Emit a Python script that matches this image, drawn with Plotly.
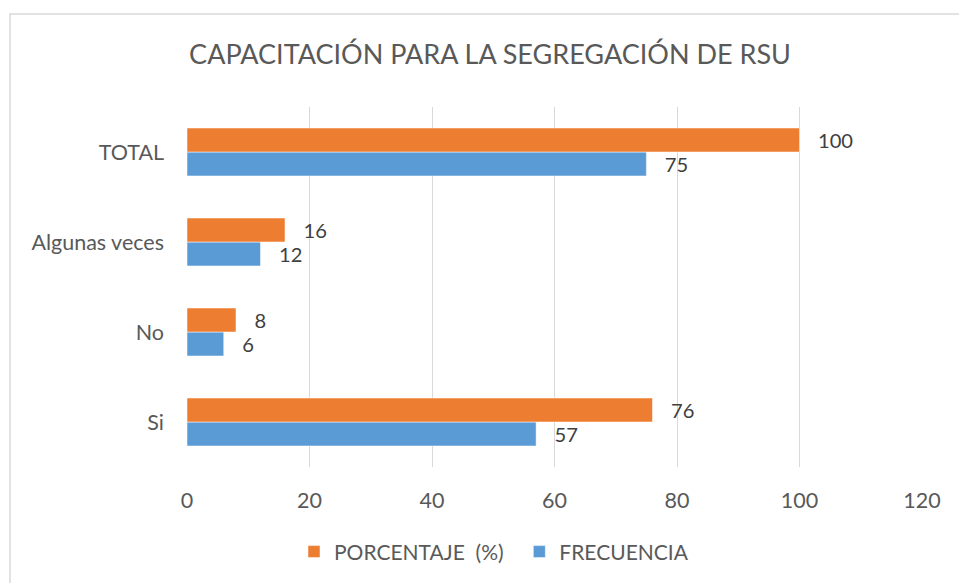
import plotly.graph_objects as go

categories = ["Si", "No", "Algunas veces", "TOTAL"]
frecuencia = [57, 6, 12, 75]
porcentaje = [76, 8, 16, 100]
x_ticks = [0, 20, 40, 60, 80, 100, 120]

FONT = "Lato, 'Open Sans', sans-serif"
GREY = "#595959"

W, H = 959, 583
PL, PR, PT, PB = 187, 922, 107, 467

fig = go.Figure()
fig.add_trace(go.Bar(
    y=categories, x=frecuencia, orientation="h", name="FRECUENCIA",
    marker=dict(color="#5B9BD5", line=dict(color="white", width=0.5)),
    text=frecuencia, texttemplate="   %{x}", textposition="outside",
    textfont=dict(family=FONT, size=21, color="#404040"), cliponaxis=False,
))
fig.add_trace(go.Bar(
    y=categories, x=porcentaje, orientation="h", name="PORCENTAJE  (%)  ",
    marker=dict(color="#ED7D31", line=dict(color="white", width=0.5)),
    text=porcentaje, texttemplate="   %{x}", textposition="outside",
    textfont=dict(family=FONT, size=21, color="#404040"), cliponaxis=False,
))

fig.update_layout(
    width=W, height=H,
    margin=dict(l=PL, r=W - PR, t=PT, b=H - PB, autoexpand=False),
    paper_bgcolor="white", plot_bgcolor="white",
    barmode="group", bargap=0.467, bargroupgap=0,
    font=dict(family=FONT, color=GREY, size=21),
    title=dict(text="CAPACITACIÓN PARA LA SEGREGACIÓN DE RSU",
               x=490 / W, xanchor="center", xref="container",
               y=1 - 55 / H, yanchor="middle", yref="container",
               font=dict(family=FONT, size=27, color=GREY)),
    xaxis=dict(range=[0, 120], tickvals=x_ticks, showgrid=True,
               gridcolor="#d9d9d9", gridwidth=1, zeroline=False,
               showline=False, ticks="", ticklabelstandoff=18,
               tickfont=dict(family=FONT, size=21.5, color=GREY), fixedrange=True),
    yaxis=dict(categoryorder="array", categoryarray=categories,
               showgrid=False, zeroline=False, showline=False, ticks="",
               ticklabelstandoff=22,
               tickfont=dict(family=FONT, size=21.5, color=GREY), fixedrange=True),
    legend=dict(orientation="h", x=(494 - 187) / 735, xanchor="center", xref="paper",
                y=-0.236, yanchor="middle", traceorder="reversed",
                font=dict(family=FONT, size=21, color=GREY),
                itemwidth=30, bgcolor="rgba(0,0,0,0)"),
    shapes=[dict(type="rect", xref="paper", yref="paper",
                 x0=(10 - 187) / 735, x1=(990 - 187) / 735,
                 y0=(467 - 600) / 360, y1=(467 - 14) / 360,
                 line=dict(color="#d9d9d9", width=1.5), fillcolor="rgba(0,0,0,0)",
                 layer="below")],
)

fig.write_html("out.html", config={"displayModeBar": False},
               post_script="document.body.style.margin='0';document.body.style.overflow='hidden';")
